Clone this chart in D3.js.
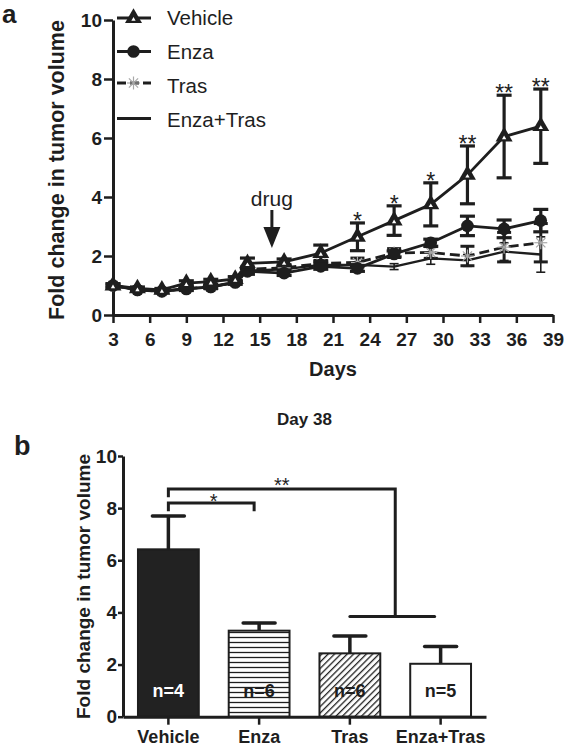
<!DOCTYPE html>
<html><head><meta charset="utf-8">
<script src="https://cdn.jsdelivr.net/npm/d3@7"></script>
<style>
body{margin:0;background:#fff}
svg{display:block}
text{font-family:"Liberation Sans",Arial,Helvetica,sans-serif}
</style>
</head><body>
<svg id="c" width="566" height="746"></svg>
<script>
// ---------- Panel a data ----------
const days = [3,5,7,9,11,13,14,17,20,23,26,29,32,35,38];
const xTicksA = [3,6,9,12,15,18,21,24,27,30,33,36,39];
const yTicksA = [0,2,4,6,8,10];
const vehicleMean = [1.0,0.9,0.85,1.08,1.13,1.22,1.75,1.8,2.1,2.65,3.2,3.75,4.75,6.05,6.4];
const vehicleErr  = [0.06,0.05,0.05,0.08,0.08,0.08,0.18,0.1,0.27,0.47,0.5,0.73,0.98,1.4,1.26];
const enzaMean    = [1.0,0.85,0.8,0.88,0.95,1.1,1.48,1.42,1.65,1.58,2.07,2.45,3.02,2.92,3.2];
const enzaErr     = [0.05,0.04,0.04,0.05,0.05,0.06,0.1,0.08,0.1,0.1,0.1,0.12,0.33,0.3,0.38];
const trasMean    = [1.0,0.85,0.8,0.9,0.95,1.12,1.55,1.6,1.75,1.78,2.1,2.12,2.0,2.3,2.45];
const trasErr     = [0.05,0.04,0.04,0.05,0.06,0.06,0.1,0.08,0.1,0.15,0.15,0.2,0.33,0.5,0.65];
const comboMean   = [1.0,0.85,0.8,0.9,0.95,1.1,1.5,1.55,1.7,1.7,1.64,1.92,1.85,2.15,2.05];
const comboErr    = [0.05,0.04,0.04,0.05,0.05,0.05,0.08,0.08,0.08,0.1,0.1,0.2,0.2,0.3,0.6];
const sigDays     = [23,26,29,32,35,38];
const sigLabels   = ["*","*","*","**","**","**"];
const seriesNames = ["Vehicle","Enza","Tras","Enza+Tras"];
const drugDay = 16;

// ---------- Panel b data ----------
const groups  = ["Vehicle","Enza","Tras","Enza+Tras"];
const barMean = [6.42,3.3,2.43,2.03];
const barErr  = [1.28,0.29,0.67,0.66];
const nLabels = ["n=4","n=6","n=6","n=5"];
const yTicksB = [0,2,4,6,8,10];

const INK = "#1e1e1e";
const svg = d3.select("#c");

const defs = svg.append("defs");
const ph = defs.append("pattern").attr("id","hstripe").attr("patternUnits","userSpaceOnUse")
  .attr("width",8).attr("height",5);
ph.append("rect").attr("width",8).attr("height",5).attr("fill","#fff");
ph.append("line").attr("x1",0).attr("x2",8).attr("y1",2.5).attr("y2",2.5)
  .attr("stroke",INK).attr("stroke-width",1.3);
const pd = defs.append("pattern").attr("id","diag").attr("patternUnits","userSpaceOnUse")
  .attr("width",4.5).attr("height",10).attr("patternTransform","rotate(45)");
pd.append("rect").attr("width",4.5).attr("height",10).attr("fill","#fff");
pd.append("line").attr("x1",1.5).attr("x2",1.5).attr("y1",0).attr("y2",10)
  .attr("stroke",INK).attr("stroke-width",1.3);

function styleAxis(g, fs){
  g.select(".domain").attr("stroke",INK).attr("stroke-width",3);
  g.selectAll(".tick line").attr("stroke",INK).attr("stroke-width",2.5);
  g.selectAll(".tick text").attr("fill",INK).attr("font-size",fs).attr("font-weight","bold")
    .style("font-family",'"Liberation Sans",Arial,sans-serif');
}

// ================= Panel a =================
const xA = d3.scaleLinear().domain([3,39]).range([113,553]);
const yA = d3.scaleLinear().domain([0,10]).range([315,20]);
const gA = svg.append("g");

styleAxis(gA.append("g").attr("transform",`translate(0,${yA(0)})`)
  .call(d3.axisBottom(xA).tickValues(xTicksA).tickSize(8).tickPadding(10).tickSizeOuter(0)), 19);
styleAxis(gA.append("g").attr("transform",`translate(${xA(3)},0)`)
  .call(d3.axisLeft(yA).tickValues(yTicksA).tickSize(9).tickPadding(2).tickSizeOuter(0)), 19);

gA.append("text").attr("x",(xA(3)+xA(39))/2).attr("y",376).attr("text-anchor","middle")
  .attr("font-size",20).attr("font-weight","bold").attr("fill",INK).text("Days");
gA.append("text").attr("transform","translate(63.5,170) rotate(-90)").attr("text-anchor","middle")
  .attr("font-size",21.5).attr("font-weight","bold").attr("fill",INK).text("Fold change in tumor volume");
svg.append("text").attr("x",2).attr("y",23).attr("font-size",26).attr("font-weight","bold")
  .attr("fill",INK).text("a");

function drawMarker(g, type, x, y){
  if(type==="triangle"){
    g.append("path").attr("d",d3.symbol(d3.symbolTriangle,125)()).attr("transform",`translate(${x},${y})`).attr("fill",INK);
    g.append("path").attr("d",d3.symbol(d3.symbolTriangle,8)()).attr("transform",`translate(${x},${y+1.5})`).attr("fill","#fff");
  } else if(type==="circle"){
    g.append("circle").attr("cx",x).attr("cy",y).attr("r",6.3).attr("fill",INK);
  } else if(type==="star"){
    [0,45,90,135].forEach(a=>{
      const r=6.5, t=a*Math.PI/180;
      g.append("line").attr("x1",x-r*Math.cos(t)).attr("y1",y-r*Math.sin(t))
        .attr("x2",x+r*Math.cos(t)).attr("y2",y+r*Math.sin(t))
        .attr("stroke","#a8a8a8").attr("stroke-width",1.2);
    });
  }
}

const series = [
  {name:"Enza+Tras", mean:comboMean, err:comboErr, dash:null, lw:2.4, ebw:1.6, cap:9, marker:"none"},
  {name:"Tras", mean:trasMean, err:trasErr, dash:"10,5", lw:2.8, ebw:3, cap:14, marker:"star"},
  {name:"Enza", mean:enzaMean, err:enzaErr, dash:null, lw:2.8, ebw:3.2, cap:15, marker:"circle"},
  {name:"Vehicle", mean:vehicleMean, err:vehicleErr, dash:null, lw:2.8, ebw:3.2, cap:15, marker:"triangle"}
];

series.forEach(s=>{
  const g = gA.append("g");
  days.forEach((d,i)=>{
    const x=xA(d), lo=yA(s.mean[i]-s.err[i]), hi=yA(s.mean[i]+s.err[i]);
    g.append("line").attr("x1",x).attr("x2",x).attr("y1",lo).attr("y2",hi).attr("stroke",INK).attr("stroke-width",s.ebw);
    [lo,hi].forEach(yy=>g.append("line").attr("x1",x-s.cap/2).attr("x2",x+s.cap/2).attr("y1",yy).attr("y2",yy)
      .attr("stroke",INK).attr("stroke-width",s.ebw));
  });
  const line = d3.line().x((d)=>xA(d)).y((d,i)=>yA(s.mean[i]));
  g.append("path").attr("d",line(days)).attr("fill","none").attr("stroke",INK)
    .attr("stroke-width",s.lw).attr("stroke-dasharray",s.dash).attr("stroke-linejoin","round");
  days.forEach((d,i)=>drawMarker(g, s.marker, xA(d), yA(s.mean[i])));
});

// significance stars
sigDays.forEach((d,k)=>{
  const i = days.indexOf(d);
  gA.append("text").attr("x",xA(d)).attr("y",yA(vehicleMean[i]+vehicleErr[i])+6)
    .attr("text-anchor","middle").attr("font-size",23).attr("fill",INK).text(sigLabels[k]);
});

// drug arrow
const dx = xA(drugDay);
gA.append("text").attr("x",dx).attr("y",yA(3.69)).attr("text-anchor","middle")
  .attr("font-size",21).attr("fill",INK).text("drug");
gA.append("line").attr("x1",dx).attr("x2",dx).attr("y1",yA(3.56)).attr("y2",yA(2.9))
  .attr("stroke",INK).attr("stroke-width",3);
gA.append("path").attr("d",`M${dx-8.5},${yA(2.98)}L${dx+8.5},${yA(2.98)}L${dx},${yA(2.27)}Z`).attr("fill",INK);

// legend
const legY = [18,51.5,83,118.5];
const legText = [25,59,92.5,126.5];
const legendStyle = {"Vehicle":series[3],"Enza":series[2],"Tras":series[1],"Enza+Tras":series[0]};
seriesNames.forEach((nm,i)=>{
  const s = legendStyle[nm];
  const g = gA.append("g");
  g.append("line").attr("x1",117).attr("x2",151).attr("y1",legY[i]).attr("y2",legY[i])
    .attr("stroke",INK).attr("stroke-width",3).attr("stroke-dasharray",s.dash?"9,4":null);
  drawMarker(g, s.marker, 133.5, legY[i]);
  g.append("text").attr("x",167).attr("y",legText[i]).attr("font-size",20.5).attr("fill",INK).text(nm);
});

// ================= Panel b =================
const xB = d3.scaleBand().domain(groups).range([123,486]).paddingInner(0.33).paddingOuter(0.165);
const yB = d3.scaleLinear().domain([0,10]).range([716.7,456]);
const gB = svg.append("g");
const fills = ["#222","url(#hstripe)","url(#diag)","#fff"];

gB.append("text").attr("x",304.5).attr("y",424.5).attr("text-anchor","middle")
  .attr("font-size",17).attr("font-weight","bold").attr("fill",INK).text("Day 38");
svg.append("text").attr("x",14).attr("y",455).attr("font-size",27).attr("font-weight","bold")
  .attr("fill",INK).text("b");
gB.append("text").attr("transform","translate(90,586.5) rotate(-90)").attr("text-anchor","middle")
  .attr("font-size",19).attr("font-weight","bold").attr("fill",INK).text("Fold change in tumor volume");

groups.forEach((g,i)=>{
  const cx = xB(g)+xB.bandwidth()/2;
  gB.append("line").attr("x1",cx).attr("x2",cx).attr("y1",yB(barMean[i])).attr("y2",yB(barMean[i]+barErr[i]))
    .attr("stroke",INK).attr("stroke-width",3.5);
  gB.append("line").attr("x1",cx-16).attr("x2",cx+16).attr("y1",yB(barMean[i]+barErr[i])).attr("y2",yB(barMean[i]+barErr[i]))
    .attr("stroke",INK).attr("stroke-width",3.5).attr("stroke-linecap","round");
  gB.append("rect").attr("x",xB(g)).attr("y",yB(barMean[i])).attr("width",xB.bandwidth())
    .attr("height",yB(0)-yB(barMean[i])).attr("fill",fills[i]).attr("stroke",INK).attr("stroke-width",2);
  gB.append("text").attr("x",cx).attr("y",yB(0.75)).attr("text-anchor","middle")
    .attr("font-size",18).attr("font-weight","bold").attr("fill",i===0?"#fff":INK).text(nLabels[i]);
});

styleAxis(gB.append("g").attr("transform",`translate(0,${yB(0)})`)
  .call(d3.axisBottom(xB).tickSize(8).tickPadding(6).tickSizeOuter(0)), 18);
styleAxis(gB.append("g").attr("transform",`translate(${xB.range()[0]},0)`)
  .call(d3.axisLeft(yB).tickValues(yTicksB).tickSize(5).tickPadding(1).tickSizeOuter(0)), 19);

// significance brackets
const c = g => xB(g)+xB.bandwidth()/2;
const mid = (c("Tras")+c("Enza+Tras"))/2;
gB.append("path").attr("d",`M${c("Vehicle")},${yB(7.88)}V${yB(8.2)}H${c("Enza")-5}V${yB(7.88)}`)
  .attr("fill","none").attr("stroke",INK).attr("stroke-width",3);
gB.append("text").attr("x",(c("Vehicle")+c("Enza"))/2).attr("y",yB(8.2)+5).attr("text-anchor","middle")
  .attr("font-size",20).attr("fill",INK).text("*");
gB.append("path").attr("d",`M${c("Vehicle")},${yB(8.42)}V${yB(8.73)}H${mid}V${yB(3.84)}`)
  .attr("fill","none").attr("stroke",INK).attr("stroke-width",3);
gB.append("path").attr("d",`M${c("Tras")},${yB(3.84)}H${c("Enza+Tras")-6}`)
  .attr("fill","none").attr("stroke",INK).attr("stroke-width",3).attr("stroke-linecap","round");
gB.append("text").attr("x",(c("Vehicle")+mid)/2).attr("y",yB(8.73)+3).attr("text-anchor","middle")
  .attr("font-size",20).attr("fill",INK).text("**");
</script>
</body></html>
